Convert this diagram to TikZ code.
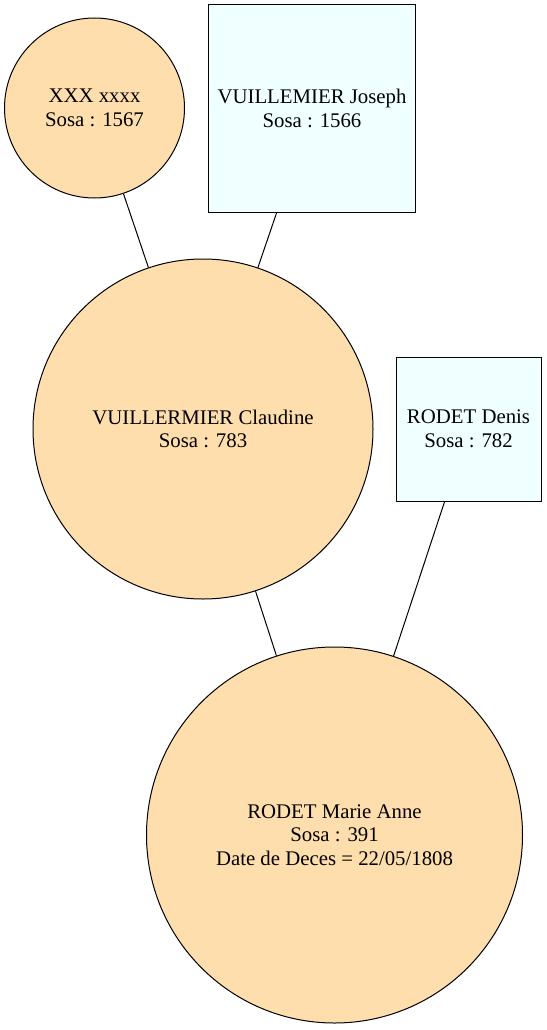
\documentclass[tikz,border=0pt]{standalone}
\usepackage{fontspec}
\setmainfont{Liberation Serif}
\definecolor{peach}{RGB}{255,222,173}
\definecolor{paleazure}{RGB}{240,255,255}
\begin{document}
\begin{tikzpicture}[x=1pt,y=-1pt,line width=1pt,
    woman/.style={circle,draw,fill=peach,inner sep=0pt,align=center,
        font=\fontsize{20.8}{23.5}\selectfont},
    man/.style={rectangle,draw,fill=paleazure,inner sep=0pt,align=center,
        font=\fontsize{20.8}{23.5}\selectfont}]
    
    \useasboundingbox[fill=white] (0,0) rectangle (546,1030);
    
    % parents of Claudine
    \node[woman,minimum size=180pt] (xxx) at (94.5,108) {XXX xxxx\\Sosa : 1567};
    \node[man,minimum width=207pt,minimum height=207pt] (joseph) at (312,108.5)
        {VUILLEMIER Joseph\\Sosa : 1566};
    
    % parents of Marie Anne
    \node[woman,minimum size=340pt] (claudine) at (203,429)
        {VUILLERMIER Claudine\\Sosa : 783};
    \node[man,minimum width=145pt,minimum height=144pt] (denis) at (468.5,429)
        {RODET Denis\\Sosa : 782};
    
    \node[woman,minimum size=376pt] (marie) at (334.5,835)
        {RODET Marie Anne\\Sosa : 391\\Date de Deces = 22/05/1808};
    
    \draw (xxx) -- (claudine);
    \draw (joseph) -- (claudine);
    \draw (claudine) -- (marie);
    \draw (denis) -- (marie);
    
\end{tikzpicture}
\end{document}
